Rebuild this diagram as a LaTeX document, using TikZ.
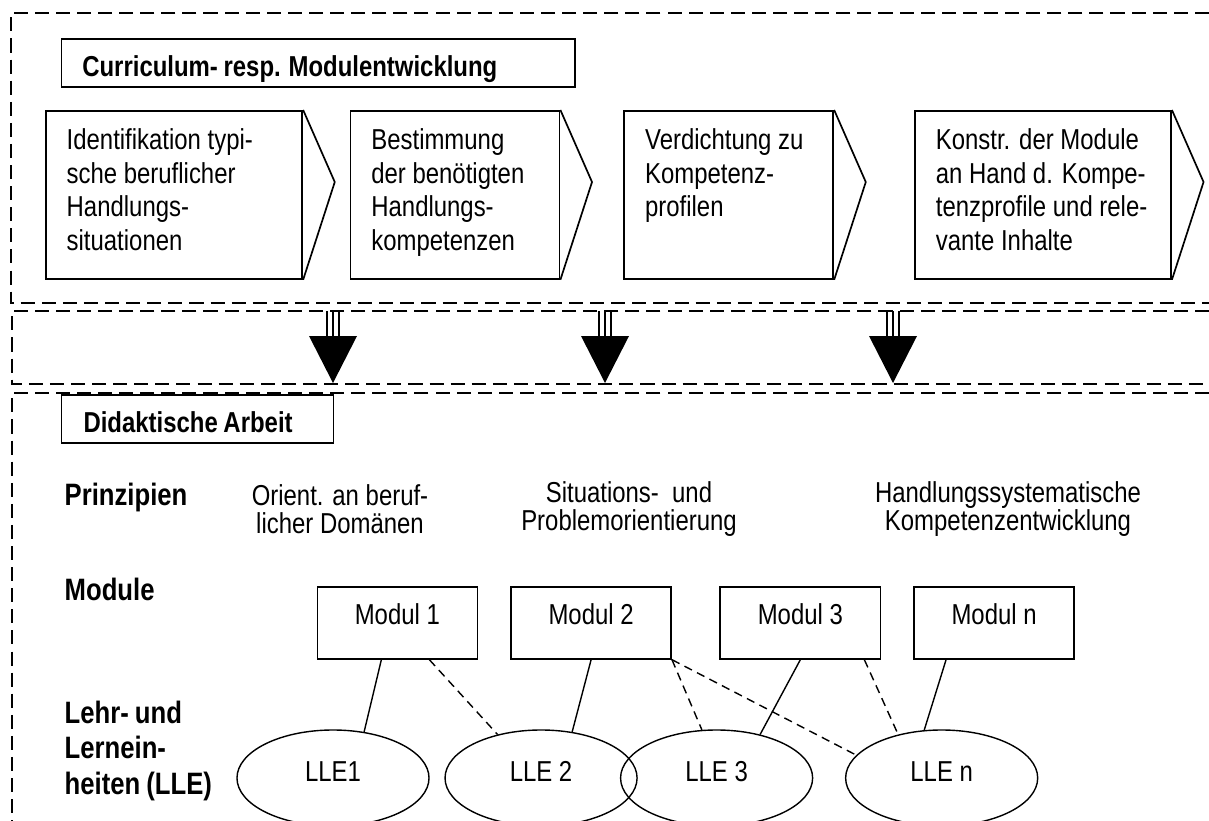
\documentclass[tikz,border=0pt]{standalone}
\usepackage{fontspec}
\setmainfont{Liberation Sans}[FakeStretch=0.83,BoldFeatures={FakeStretch=0.83,WordSpace=0.85}]
\usetikzlibrary{calc,shapes,positioning}

\begin{document}
\begin{tikzpicture}[x=0.025cm,y=-0.025cm,line width=1pt,
    font=\fontsize{20.5}{23.8}\selectfont,
    frame/.style={draw,dash pattern=on 10pt off 5pt,line width=1.3pt},
    stepbox/.style={draw,rectangle,minimum height=4.2cm,inner sep=0pt,line width=1.2pt},
    steptext/.style={align=left,inner sep=0pt,anchor=north west},
    modbox/.style={draw,rectangle,minimum width=4cm,inner sep=0pt,line width=1.2pt,
      text height=0.95cm,text depth=0.85cm},
    lle/.style={draw,ellipse,minimum width=4.8cm,minimum height=2.4cm,inner sep=0pt,text depth=0.32cm},
    head/.style={font=\fontsize{20.5}{25.2}\selectfont\bfseries,inner sep=0pt},
    side/.style={font=\fontsize{22}{25.2}\selectfont\bfseries,inner sep=0pt},
    titlebox/.style={draw,rectangle,head,align=flush left,anchor=north west,line width=1.2pt,
      inner xsep=0.525cm,inner ysep=0pt,text height=0.95cm,text depth=0.25cm},
    link/.style={dash pattern=on 6pt off 4pt}]

    \clip (0,0) rectangle (1209,821);

    % dashed frames
    \draw[frame] (1230,13) -- (11,13) -- (11,303) -- (1230,303);
    \draw[frame] (1230,311) -- (12,311) -- (12,384) -- (1230,384);
    \draw[frame] (1230,393) -- (12,393) -- (12,840);

    % upper part
    \node[titlebox,text width=11.7875cm](title) at (60.5,38){Curriculum- resp. Modulentwicklung};

    \node[stepbox,minimum width=6.41cm,anchor=north west](s1) at (45,110){};
    \node[stepbox,minimum width=5.225cm,right=1.1625cm of s1](s2){};
    \node[stepbox,minimum width=5.225cm,right=1.575cm of s2](s3){};
    \node[stepbox,minimum width=6.4cm,right=2cm of s3](s4){};
    \node[steptext](t1) at ([xshift=0.525cm,yshift=-0.45cm]s1.north west)
      {Identifikation typi-\\sche beruflicher\\Handlungs-\\situationen};
    \node[steptext](t2) at ([xshift=0.525cm,yshift=-0.45cm]s2.north west)
      {Bestimmung\\der benötigten\\Handlungs-\\kompetenzen};
    \node[steptext](t3) at ([xshift=0.525cm,yshift=-0.45cm]s3.north west)
      {Verdichtung zu\\Kompetenz-\\profilen};
    \node[steptext](t4) at ([xshift=0.525cm,yshift=-0.45cm]s4.north west)
      {Konstr. der Module\\an Hand d. Kompe-\\tenzprofile und rele-\\vante Inhalte};
    \draw[line width=1.2pt] (s1.north east) -- ([xshift=0.79cm,yshift=-1.8cm]s1.north east) -- (s1.south east);
    \draw[line width=1.2pt] (s2.north east) -- ([xshift=0.79cm,yshift=-1.8cm]s2.north east) -- (s2.south east);
    \draw[line width=1.2pt] (s3.north east) -- ([xshift=0.79cm,yshift=-1.8cm]s3.north east) -- (s3.south east);
    \draw[line width=1.2pt] (s4.north east) -- ([xshift=0.79cm,yshift=-1.8cm]s4.north east) -- (s4.south east);

    % block arrows
    \foreach \ax in {333,605,893} {
      \draw[line width=1.5pt] (\ax-6,311) -- (\ax-6,337) (\ax,311) -- (\ax,337) (\ax+6,311) -- (\ax+6,337);
      \fill (\ax-24,336) -- (\ax+24,336) -- (\ax,383) -- cycle;
    }

    % lower part
    \node[titlebox,text width=5.7cm,inner xsep=0.55cm,text height=0.94cm,text depth=0.26cm](didak) at (60.7,394){Didaktische Arbeit};

    \node[side,anchor=base west](prin) at (64,505){Prinzipien};
    \node[align=center,font=\fontsize{20.5}{19.9}\selectfont](p1) at (340,509){Orient. an beruf-\\licher Domänen};
    \node[align=center,font=\fontsize{20.5}{19.9}\selectfont](p2) at (629,509){Situations-\ \ und\\Problemorientierung};
    \node[align=center,font=\fontsize{20.5}{19.9}\selectfont](p3) at (1008,509){Handlungssystematische\\Kompetenzentwicklung};

    \node[side,anchor=base west](modl) at (64,600){Module};
    \node[modbox,anchor=north west](m1) at (316.5,586){Modul 1};
    \node[modbox,right=0.8cm of m1](m2){Modul 2};
    \node[modbox,right=1.1875cm of m2](m3){Modul 3};
    \node[modbox,right=0.8cm of m3](mn){Modul n};

    \node[side,align=left,anchor=north west](llel) at (64,700){Lehr- und\\Lernein-\\heiten (LLE)};
    \node[lle](l1) at (333,778){LLE1};
    \node[lle,right of=l1,node distance=5.2cm](l2){LLE 2};
    \node[lle,right of=l2,node distance=4.3875cm](l3){LLE 3};
    \node[lle,right of=l3,node distance=5.625cm](ln){LLE n};

    \draw ([xshift=-0.4cm]m1.south) -- (l1.56);
    \draw[link] ([xshift=0.8cm]m1.south) -- (l2.135);
    \draw (m2.south) -- (l2.56);
    \draw[link] (m2.south east) -- (l3.107);
    \draw[link] (m2.south east) -- (ln.165);
    \draw (m3.south) -- (l3.45);
    \draw[link] ([xshift=1.6cm]m3.south) -- (ln.135);
    \draw ([xshift=-1.2cm]mn.south) -- (ln.110);

\end{tikzpicture}
\end{document}
